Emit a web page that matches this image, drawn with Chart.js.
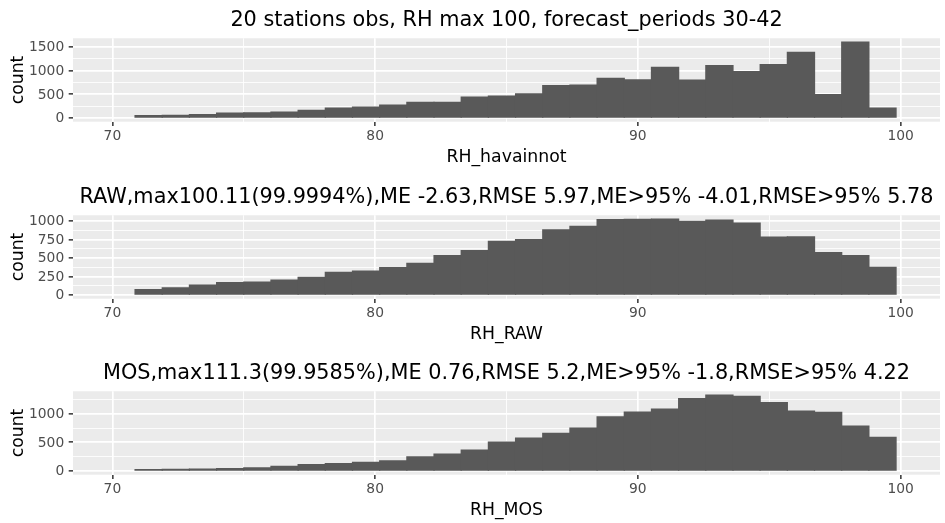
<!DOCTYPE html>
<html>
<head>
<meta charset="utf-8">
<script src="https://cdn.jsdelivr.net/npm/chart.js@4.4.1/dist/chart.umd.min.js"></script>
<style>
  html, body { margin: 0; padding: 0; background: #ffffff; width: 945px; height: 523px; overflow: hidden; }
  .panel { position: absolute; left: 0; width: 945px; height: 177px; }
  canvas { display: block; }
</style>
</head>
<body>
<div class="panel" style="top:0px"><canvas id="c1" width="945" height="177"></canvas></div>
<div class="panel" style="top:177px"><canvas id="c2" width="945" height="177"></canvas></div>
<div class="panel" style="top:353px"><canvas id="c3" width="945" height="177"></canvas></div>
<script>
// ---- data ----
const binStart = 70.862;      // left edge of first visible bin (RH %)
const binWidth = 1.0345;      // histogram bin width (RH %)

const obsCounts = [48, 55, 72, 100, 108, 122, 162, 207, 228, 268, 330, 328, 440, 458,
                   506, 684, 690, 833, 805, 1068, 798, 1104, 976, 1126, 1382, 491, 1600, 207];
const rawCounts = [72, 95, 132, 168, 174, 200, 236, 304, 322, 368, 427, 531, 599, 726,
                   749, 881, 926, 1017, 1021, 1026, 994, 1012, 971, 781, 786, 572, 531, 372];
const mosCounts = [22, 28, 32, 42, 55, 80, 110, 130, 150, 175, 245, 295, 362, 503,
                   573, 655, 748, 947, 1029, 1082, 1263, 1327, 1304, 1193, 1047, 1023, 783, 585];

const xLimits = [68.5, 101.5];
const xMajorTicks = [70, 80, 90, 100];
const xMinorTicks = [75, 85, 95];

const obsYMajor = [0, 500, 1000, 1500];
const obsYMinor = [250, 750, 1250];
const rawYMajor = [0, 250, 500, 750, 1000];
const rawYMinor = [125, 375, 625, 875];
const mosYMajor = [0, 500, 1000];
const mosYMinor = [250, 750, 1250];

const panelTitles = [
  "20 stations obs, RH max 100, forecast_periods 30-42",
  "RAW,max100.11(99.9994%),ME -2.63,RMSE 5.97,ME>95% -4.01,RMSE>95% 5.78",
  "MOS,max111.3(99.9585%),ME 0.76,RMSE 5.2,ME>95% -1.8,RMSE>95% 4.22"
];
const xAxisTitles = ["RH_havainnot", "RH_RAW", "RH_MOS"];
const yAxisTitle = "count";

// ---- styling ----
const FONT = "'DejaVu Sans', 'Liberation Sans', sans-serif";
const panelBg = {
  id: 'panelBg',
  beforeDraw(chart) {
    const a = chart.chartArea;
    const ctx = chart.ctx;
    ctx.save();
    ctx.fillStyle = '#EBEBEB';
    ctx.fillRect(a.left, a.top, a.right - a.left, a.bottom - a.top);
    ctx.restore();
  }
};

function gridOpts(majors) {
  const isMajor = (ctx) => ctx.tick && majors.includes(ctx.tick.value);
  return {
    offset: false,
    color: '#FFFFFF',
    lineWidth: (ctx) => isMajor(ctx) ? 1.7 : 0.85,
    drawTicks: true,
    tickLength: 4.3,
    tickWidth: 1.5,
    tickColor: (ctx) => isMajor(ctx) ? '#333333' : 'rgba(0,0,0,0)'
  };
}

function makePanel(id, counts, yMajor, yMinor, title, xTitle) {
  const yMax = Math.max(...counts);
  const points = counts.map((c, i) => ({ x: binStart + (i + 0.5) * binWidth, y: c }));
  new Chart(document.getElementById(id), {
    type: 'bar',
    data: {
      datasets: [{
        data: points,
        backgroundColor: '#595959',
        borderWidth: 0,
        inflateAmount: 0.6,
        barPercentage: 1.0,
        categoryPercentage: 1.0
      }]
    },
    options: {
      responsive: false,
      animation: false,
      devicePixelRatio: 1,
      events: [],
      layout: { padding: { left: 0, right: 5, top: 0, bottom: 0 } },
      plugins: {
        legend: { display: false },
        tooltip: { enabled: false },
        title: {
          display: true,
          text: title,
          fullSize: false,
          color: '#000000',
          font: { family: FONT, size: 20.8, weight: 'normal' },
          padding: { top: 8.4, bottom: 4.9 }
        }
      },
      scales: {
        x: {
          type: 'linear',
          min: xLimits[0],
          max: xLimits[1],
          offset: false,
          border: { display: false },
          grid: gridOpts(xMajorTicks),
          afterBuildTicks: (s) => {
            s.ticks = [...xMajorTicks, ...xMinorTicks].sort((a, b) => a - b).map(v => ({ value: v }));
          },
          afterFit: (s) => { s.height = 55.3; },
          ticks: {
            autoSkip: false, maxRotation: 0, minRotation: 0, padding: 2.5,
            color: '#4D4D4D',
            font: { family: FONT, size: 13.84 },
            callback: (v) => xMajorTicks.includes(v) ? String(v) : ''
          },
          title: {
            display: true, text: xTitle, color: '#000000',
            font: { family: FONT, size: 17.3 },
            padding: { top: 0, bottom: 8.7 }
          }
        },
        y: {
          type: 'linear',
          min: -0.05 * yMax,
          max: 1.05 * yMax,
          border: { display: false },
          grid: gridOpts(yMajor),
          afterBuildTicks: (s) => {
            s.ticks = [...yMajor, ...yMinor].sort((a, b) => a - b).map(v => ({ value: v }));
          },
          afterFit: (s) => { s.width = 73; },
          ticks: {
            autoSkip: false, padding: 4.5, labelOffset: 0.9,
            color: '#4D4D4D',
            font: { family: FONT, size: 13.84 },
            callback: (v) => yMajor.includes(v) ? String(v) : ''
          },
          title: {
            display: true, text: yAxisTitle, color: '#000000',
            font: { family: FONT, size: 17.3 },
            padding: { top: 7.8, bottom: 0 }
          }
        }
      }
    },
    plugins: [panelBg]
  });
}

makePanel('c1', obsCounts, obsYMajor, obsYMinor, panelTitles[0], xAxisTitles[0]);
makePanel('c2', rawCounts, rawYMajor, rawYMinor, panelTitles[1], xAxisTitles[1]);
makePanel('c3', mosCounts, mosYMajor, mosYMinor, panelTitles[2], xAxisTitles[2]);
</script>
</body>
</html>
